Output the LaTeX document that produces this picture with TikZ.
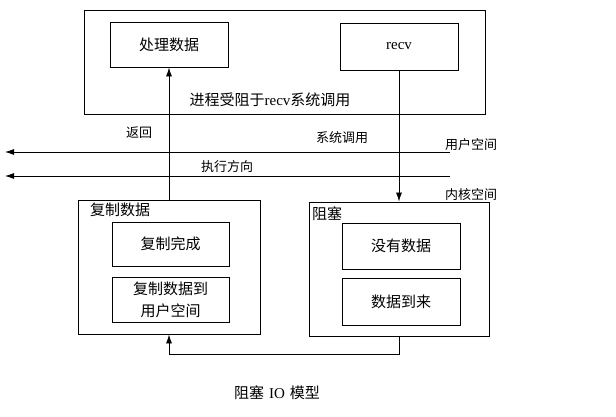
\documentclass[tikz,border=0pt]{standalone}
\usepackage{fontspec}
\setmainfont{Liberation Serif}
\newfontfamily\cjk{Noto Sans CJK SC}
\usetikzlibrary{arrows.meta}
\begin{document}
\begin{tikzpicture}[x=1pt,y=-1pt,
  every node/.style={inner sep=0pt},
  box/.style={draw, line width=0.9pt, font=\cjk\fontsize{15}{22}\selectfont, align=center},
  lab/.style={font=\cjk\fontsize{13}{15}\selectfont},
  arr/.style={-{Latex[length=9pt,width=6pt]}, line width=0.8pt},
  ln/.style={line width=0.8pt}]
\useasboundingbox (0,0) rectangle (616,417);

% top process box
\node[box, minimum width=401pt, minimum height=104pt] (proc) at (284.5,62) {};
\node[box, minimum width=118pt, minimum height=45pt] (chuli) at (169,44.5) {处理数据};
\node[box, minimum width=118pt, minimum height=47pt, font=\fontsize{15}{18}\selectfont] (recv) at (399,46.5) {recv};
\node[font=\fontsize{15}{18}\selectfont] (blocked) at (270,100) {{\cjk 进程受阻于}recv{\cjk 系统调用}};

% kernel boxes
\node[box, minimum width=182pt, minimum height=134pt] (fuzhi) at (169,267) {};
\node[box, minimum width=117pt, minimum height=44pt] (wancheng) at (170.5,244) {复制完成};
\node[box, minimum width=117pt, minimum height=45pt] (daoyonghu) at (170.5,299.5) {复制数据到\\用户空间};
\node[font=\cjk\fontsize{15}{18}\selectfont, anchor=west] (fuzhilab) at (90,210) {复制数据};

\node[box, minimum width=180pt, minimum height=134pt] (zuse) at (399,269) {};
\node[box, minimum width=118pt, minimum height=46pt] (meiyou) at (401,246) {没有数据};
\node[box, minimum width=118pt, minimum height=47pt] (daolai) at (401,301.5) {数据到来};
\node[font=\cjk\fontsize{15}{18}\selectfont, anchor=west] (zuselab) at (312,214) {阻塞};

% execution direction lines
\coordinate (u1) at (450,152);
\coordinate (u2) at (5,152);
\coordinate (k1) at (450,176);
\coordinate (k2) at (5,176);
\draw[arr] (u1) -- (u2);
\draw[arr] (k1) -- (k2);

% labels
\node[lab] (fanhui) at (139,133) {返回};
\node[lab] (xitong) at (342,138) {系统调用};
\node[lab] (user) at (471,145) {用户空间};
\node[lab] (dir) at (227,167) {执行方向};
\node[lab] (kernel) at (471,195) {内核空间};

% connectors
\draw[arr] (fuzhi.north) -- (chuli.south);
\draw[arr] (recv.south) -- (zuse.north);
\draw[arr] (zuse.south) -- ++(0,18) -| (fuzhi.south);

% caption
\node[font=\fontsize{15}{17}\selectfont] (caption) at (277,393) {{\cjk 阻塞}\hspace{5pt}IO\hspace{5pt}{\cjk 模型}};
\end{tikzpicture}
\end{document}
